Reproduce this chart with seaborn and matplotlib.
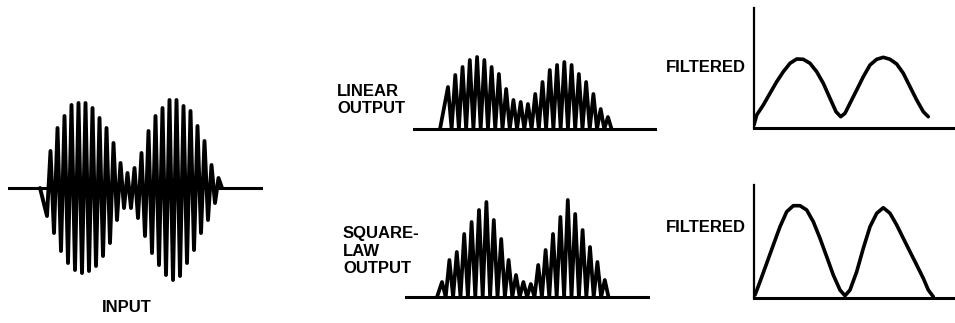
import seaborn as sns
import matplotlib.pyplot as plt

# ---- values (pixel heights) ----
# input AM signal: peak height of each carrier cycle, below and above the axis
input_lower = [28, 45, 63, 75, 82, 85, 83, 78, 68, 55, 32, 20, 20, 30, 48, 65, 77, 87, 92, 88, 75, 62, 45, 32, 15]
input_upper = [37, 60, 72, 83, 85, 85, 80, 70, 60, 45, 25, 15, 20, 35, 57, 72, 80, 88, 88, 82, 77, 62, 47, 23, 10]

# linear detector output: height of each rectified peak
linear_peaks = [42, 54, 62, 69, 72, 69, 62, 55, 40, 29, 27, 25, 35, 47, 59, 64, 67, 64, 55, 47, 35, 20, 12]

# square-law detector output: height of each rectified peak
square_peaks = [15, 37, 45, 63, 75, 87, 95, 77, 58, 37, 22, 15, 13, 32, 47, 63, 80, 97, 83, 67, 50, 35, 17]

# filtered (envelope) outputs, traced points
lin_filt_x = [0, 2.7, 9.3, 16, 22.7, 29.3, 36, 42.7, 49.3, 56, 62.7, 69.3, 76, 82, 86.7, 91, 96,
              102.7, 109.3, 116, 122.7, 129.3, 136, 142.7, 149.3, 156, 162.7, 169.3, 174.3]
lin_filt_y = [3, 13, 23, 34.7, 46.3, 56.3, 64.7, 69, 68.7, 64.7, 56.3, 44.7, 29.7, 16.3, 11.3, 14.7, 24.7,
              38, 51.3, 63, 68.7, 70.7, 68.7, 64, 54.7, 41.3, 28, 16.3, 11.3]
sq_filt_x = [1, 6, 12.7, 19.3, 26, 32.7, 39.3, 46, 52.7, 59.3, 66, 72.7, 79.3, 86, 91, 96, 102.7,
             109.3, 116, 122.7, 129.3, 136, 142.7, 149.3, 156, 162.7, 169.3, 174.3, 179.3]
sq_filt_y = [3, 16.3, 34.7, 53, 71.3, 86.3, 92.3, 92.3, 88, 76.3, 59.7, 41.3, 23, 8, 2.3, 8, 26.3,
             49.7, 71.3, 84.7, 90.3, 84.7, 73, 59.7, 46.3, 33, 19.7, 8, 1.3]

W, H = 955, 323
sns.set_theme(style="white")
plt.rcParams['font.family'] = ['Liberation Sans', 'DejaVu Sans']
fig = plt.figure(figsize=(W / 100, H / 100), dpi=100)


def panel(x0, y0, x1, y1):
    # axes placed by pixel box of the reference (top-left origin)
    ax = fig.add_axes([x0 / W, 1 - y1 / H, (x1 - x0) / W, (y1 - y0) / H])
    ax.set_xlim(0, x1 - x0)
    ax.set_xticks([])
    ax.set_yticks([])
    sns.despine(ax=ax, left=True, bottom=True)
    return ax


def draw(ax, xs, ys, lw):
    sns.lineplot(x=xs, y=ys, ax=ax, sort=False, estimator=None, color="black",
                 lw=lw, solid_joinstyle="round", solid_capstyle="round")


# input
ax = panel(8, 95, 263, 285)
ax.set_ylim(-97, 93)
xs, ys = [32], [0]
for i, (lo, hi) in enumerate(zip(input_lower, input_upper)):
    xs += [39 + i * 7, 42.5 + i * 7]
    ys += [-lo, hi]
xs.append(214)
ys.append(0)
draw(ax, xs, ys, 2.8)
ax.axhline(0, color="black", lw=2.2)

# linear output
ax = panel(413, 50, 657, 132)
ax.set_ylim(-3, 79)
xs, ys = [27], [0]
for i, h in enumerate(linear_peaks):
    xs += [35 + i * 7.27, 38.6 + i * 7.27]
    ys += [h, 0]
draw(ax, xs, ys, 2.7)
ax.axhline(0, color="black", lw=2.2)

# square-law output
ax = panel(405, 195, 650, 300)
ax.set_ylim(-3, 102)
xs, ys = [32], [0]
for i, h in enumerate(square_peaks):
    xs += [37 + i * 7.4, 40.7 + i * 7.4]
    ys += [h, 0]
draw(ax, xs, ys, 2.7)
ax.axhline(0, color="black", lw=2.2)

# filtered outputs
for (y0, y1, fx, fy) in [(8, 128, lin_filt_x, lin_filt_y), (185, 298, sq_filt_x, sq_filt_y)]:
    ax = panel(754, y0, 954, y1)
    ax.set_ylim(0, y1 - y0)
    sns.despine(ax=ax)
    ax.spines["left"].set_linewidth(1.6)
    ax.spines["bottom"].set_linewidth(2.2)
    ax.spines["left"].set_color("black")
    ax.spines["bottom"].set_color("black")
    draw(ax, fx, fy, 2.6)

# labels
txt = dict(fontsize=12, fontweight="bold", color="black", linespacing=1.2)
fig.text(127 / W, 1 - 308 / H, "INPUT", ha="center", va="center", **txt)
fig.text(337 / W, 1 - 100 / H, "LINEAR\nOUTPUT", ha="left", va="center", **txt)
fig.text(343 / W, 1 - 251 / H, "SQUARE-\nLAW\nOUTPUT", ha="left", va="center", **txt)
fig.text(746 / W, 1 - 68 / H, "FILTERED", ha="right", va="center", **txt)
fig.text(746 / W, 1 - 228 / H, "FILTERED", ha="right", va="center", **txt)

fig.savefig("out.png", dpi=100)
plt.close(fig)
